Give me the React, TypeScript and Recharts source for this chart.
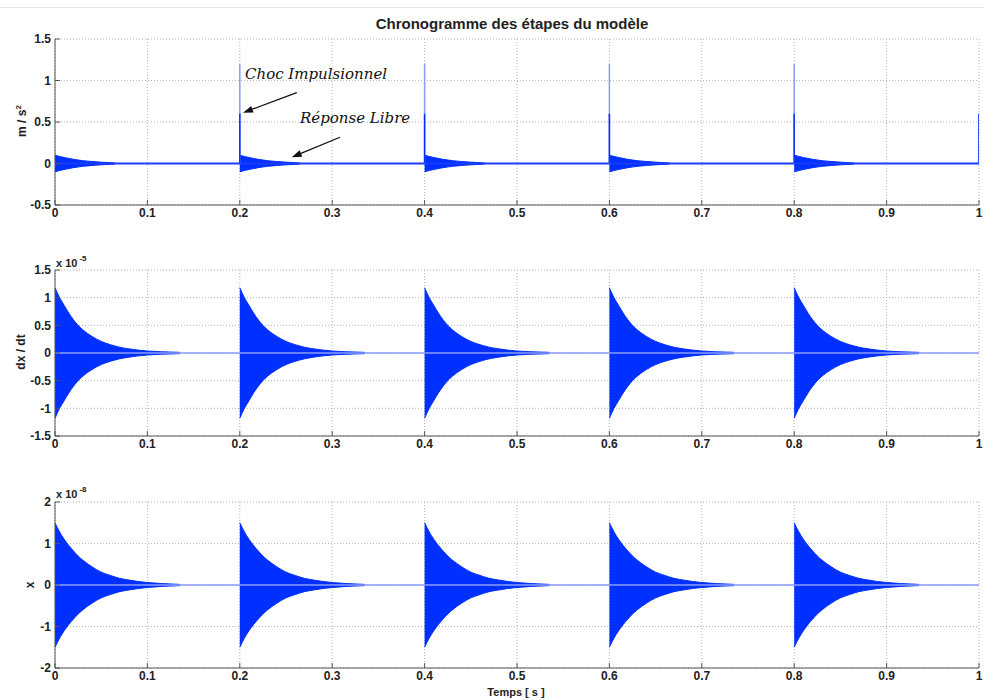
import {
	CartesianGrid,
	ComposedChart,
	Area,
	Line,
	ReferenceLine,
	XAxis,
	YAxis,
} from 'recharts'

// time axis (s)
const TIME_TICKS = [0, 0.1, 0.2, 0.3, 0.4, 0.5, 0.6, 0.7, 0.8, 0.9, 1]
const BURST_STARTS = [0, 0.2, 0.4, 0.6, 0.8]

// acceleration panel (m/s^2)
const ACCEL_TICKS = [-0.5, 0, 0.5, 1, 1.5]
const ACCEL_OFFSETS = [0, 0.005, 0.01, 0.02, 0.03, 0.04, 0.05, 0.06, 0.065]
const ACCEL_UPPER = [0.1, 0.085, 0.072, 0.05, 0.034, 0.024, 0.016, 0.01, 0.006]
const ACCEL_LOWER = [-0.1, -0.085, -0.072, -0.05, -0.034, -0.024, -0.016, -0.01, -0.006]
const SPIKE_TIMES = [0.2, 0.4, 0.6, 0.8, 1.0]
const SPIKE_PEAKS = [1.2, 1.2, 1.2, 1.2, 0.6]
const SPIKE_MIDS = [0.6, 0.6, 0.6, 0.6, 0.6]

// decay envelope of the free response (velocity x1e-5, displacement x1e-8)
const DECAY_OFFSETS = [0, 0.005, 0.01, 0.015, 0.02, 0.025, 0.03, 0.04, 0.05, 0.06, 0.07, 0.08, 0.09, 0.1, 0.115, 0.135]
const VELOCITY_TICKS = [-1.5, -1, -0.5, 0, 0.5, 1, 1.5]
const VELOCITY_ENVELOPE = [1.18, 1.0, 0.86, 0.72, 0.6, 0.5, 0.42, 0.3, 0.21, 0.15, 0.105, 0.075, 0.052, 0.036, 0.022, 0.012]
const DISPLACEMENT_TICKS = [-2, -1, 0, 1, 2]
const DISPLACEMENT_ENVELOPE = [1.5, 1.28, 1.1, 0.95, 0.82, 0.7, 0.6, 0.44, 0.31, 0.23, 0.16, 0.12, 0.085, 0.06, 0.035, 0.015]

const BLUE = '#0030ff'
const LIGHT_BLUE = '#8a9cff'
const FRAME = '#555'
const FONT = '"Liberation Sans", Arial, sans-serif'

type Row = {
	t: number
	band?: [number, number] | null
	spikeLow?: number
	spikeHigh?: number
}

const buildBursts = (offsets: number[], upper: number[], lower: number[]) => {
	const rows: Row[] = []
	BURST_STARTS.forEach((s) => {
		offsets.forEach((o, i) => rows.push({ t: s + o, band: [lower[i], upper[i]] }))
		rows.push({ t: s + offsets[offsets.length - 1] + 0.0001, band: null })
	})
	return rows
}

const buildAccelRows = () => {
	const bursts = buildBursts(ACCEL_OFFSETS, ACCEL_UPPER, ACCEL_LOWER)
	const rows: Row[] = []
	BURST_STARTS.forEach((s, k) => {
		const spikeIdx = SPIKE_TIMES.indexOf(s)
		if (spikeIdx >= 0) {
			rows.push({ t: s, spikeLow: 0, spikeHigh: 0 })
			rows.push({ t: s, spikeLow: SPIKE_MIDS[spikeIdx], spikeHigh: SPIKE_PEAKS[spikeIdx] })
		}
		const n = ACCEL_OFFSETS.length + 1
		rows.push(...bursts.slice(k * n, (k + 1) * n))
	})
	SPIKE_TIMES.filter((s) => !BURST_STARTS.includes(s)).forEach((s) => {
		const i = SPIKE_TIMES.indexOf(s)
		rows.push({ t: s, spikeLow: 0, spikeHigh: 0 })
		rows.push({ t: s, spikeLow: SPIKE_MIDS[i], spikeHigh: SPIKE_PEAKS[i] })
	})
	return rows
}

const accelRows = buildAccelRows()
const velocityRows = buildBursts(
	DECAY_OFFSETS,
	VELOCITY_ENVELOPE,
	VELOCITY_ENVELOPE.map((v) => -v),
)
const displacementRows = buildBursts(
	DECAY_OFFSETS,
	DISPLACEMENT_ENVELOPE,
	DISPLACEMENT_ENVELOPE.map((v) => -v),
)

const tickStyle = { fontSize: 12, fontWeight: 'bold' as const, fill: '#222', fontFamily: FONT }

const Arrow = (props: any) => {
	const { x1, y1, x2, y2 } = props
	const ang = Math.atan2(y2 - y1, x2 - x1)
	const len = 10
	const half = 3.5
	const bx = x2 - len * Math.cos(ang)
	const by = y2 - len * Math.sin(ang)
	const px = -Math.sin(ang) * half
	const py = Math.cos(ang) * half
	return (
		<g>
			<line x1={x1} y1={y1} x2={bx} y2={by} stroke="#111" strokeWidth={1.3} />
			<polygon
				points={`${x2},${y2} ${bx + px},${by + py} ${bx - px},${by - py}`}
				fill="#111"
			/>
		</g>
	)
}

interface PanelProps {
	data: Row[]
	height: number
	top: number
	bottom: number
	domain: [number, number]
	ticks: number[]
	baseColor: string
	baseWidth: number
	children?: React.ReactNode
}

const Panel = ({ data, height, top, bottom, domain, ticks, baseColor, baseWidth, children }: PanelProps) => (
	<ComposedChart
		width={984}
		height={height}
		data={data}
		margin={{ top, right: 5, left: 25, bottom }}
	>
		<CartesianGrid stroke="#b4b4b4" strokeDasharray="1 2" />
		<XAxis
			dataKey="t"
			type="number"
			domain={[0, 1]}
			ticks={TIME_TICKS}
			allowDataOverflow
			height={20}
			tickSize={-5}
			tickMargin={8}
			tick={tickStyle}
			tickFormatter={(v: number) => String(+v.toFixed(1))}
			axisLine={{ stroke: FRAME }}
			tickLine={{ stroke: FRAME }}
		/>
		<XAxis
			xAxisId="top"
			orientation="top"
			dataKey="t"
			type="number"
			domain={[0, 1]}
			ticks={TIME_TICKS}
			allowDataOverflow
			height={0}
			tickSize={-5}
			tick={false}
			axisLine={{ stroke: FRAME }}
			tickLine={{ stroke: FRAME }}
		/>
		<YAxis
			type="number"
			domain={domain}
			ticks={ticks}
			allowDataOverflow
			width={30}
			tickSize={-5}
			tickMargin={9}
			tick={tickStyle}
			axisLine={{ stroke: FRAME }}
			tickLine={{ stroke: FRAME }}
		/>
		<YAxis
			yAxisId="right"
			orientation="right"
			type="number"
			domain={domain}
			ticks={ticks}
			allowDataOverflow
			width={0}
			tickSize={-5}
			tick={false}
			axisLine={{ stroke: FRAME }}
			tickLine={{ stroke: FRAME }}
		/>
		<ReferenceLine y={0} stroke={baseColor} strokeWidth={baseWidth} />
		<Area
			dataKey="band"
			type="monotone"
			fill={BLUE}
			fillOpacity={1}
			stroke={BLUE}
			strokeWidth={1}
			isAnimationActive={false}
		/>
		{children}
	</ComposedChart>
)

export default function App() {
	return (
		<div
			style={{
				position: 'absolute',
				left: 0,
				top: 0,
				width: 984,
				height: 700,
				background: '#fff',
				overflow: 'hidden',
			}}
		>
			<div style={{ position: 'absolute', left: 0, top: 0 }}>
				<Panel
					data={accelRows}
					height={232}
					top={39}
					bottom={7}
					domain={[-0.5, 1.5]}
					ticks={ACCEL_TICKS}
					baseColor="#1a3cff"
					baseWidth={2}
				>
					<Line
						dataKey="spikeHigh"
						stroke={LIGHT_BLUE}
						strokeWidth={1.5}
						dot={false}
						isAnimationActive={false}
					/>
					<Line
						dataKey="spikeLow"
						stroke={BLUE}
						strokeWidth={1.5}
						dot={false}
						isAnimationActive={false}
					/>
					<ReferenceLine
						segment={[
							{ x: 0.2616, y: 0.855 },
							{ x: 0.2035, y: 0.612 },
						]}
						shape={Arrow}
					/>
					<ReferenceLine
						segment={[
							{ x: 0.3084, y: 0.316 },
							{ x: 0.2562, y: 0.075 },
						]}
						shape={Arrow}
					/>
				</Panel>
			</div>
			<div style={{ position: 'absolute', left: 0, top: 232 }}>
				<Panel
					data={velocityRows}
					height={232}
					top={38}
					bottom={8}
					domain={[-1.5, 1.5]}
					ticks={VELOCITY_TICKS}
					baseColor={LIGHT_BLUE}
					baseWidth={1.5}
				/>
			</div>
			<div style={{ position: 'absolute', left: 0, top: 464 }}>
				<Panel
					data={displacementRows}
					height={236}
					top={38}
					bottom={12}
					domain={[-2, 2]}
					ticks={DISPLACEMENT_TICKS}
					baseColor={LIGHT_BLUE}
					baseWidth={1.5}
				/>
			</div>
			<svg
				width={984}
				height={700}
				style={{ position: 'absolute', left: 0, top: 0, pointerEvents: 'none' }}
			>
				<line x1={0} y1={7.5} x2={984} y2={7.5} stroke="#e4e4e4" />
				<text
					x={512}
					y={29}
					textAnchor="middle"
					fontFamily={FONT}
					fontWeight="bold"
					fontSize={15}
					fill="#222"
				>
					Chronogramme des étapes du modèle
				</text>
				<text
					transform="translate(26,121) rotate(-90)"
					textAnchor="middle"
					fontFamily={FONT}
					fontWeight="bold"
					fontSize={12}
					fill="#222"
				>
					m / s<tspan dy={-5} fontSize={8}>2</tspan>
				</text>
				<text
					transform="translate(25,352) rotate(-90)"
					textAnchor="middle"
					fontFamily={FONT}
					fontWeight="bold"
					fontSize={12}
					fill="#222"
				>
					dx / dt
				</text>
				<text
					transform="translate(34,585) rotate(-90)"
					textAnchor="middle"
					fontFamily={FONT}
					fontWeight="bold"
					fontSize={12}
					fill="#222"
				>
					x
				</text>
				<text x={56} y={267} fontFamily={FONT} fontWeight="bold" fontSize={11} fill="#222">
					x 10<tspan dx={2} dy={-6} fontSize={8}>-5</tspan>
				</text>
				<text x={56} y={498} fontFamily={FONT} fontWeight="bold" fontSize={11} fill="#222">
					x 10<tspan dx={2} dy={-6} fontSize={8}>-8</tspan>
				</text>
				<text
					x={516}
					y={696}
					textAnchor="middle"
					fontFamily={FONT}
					fontWeight="bold"
					fontSize={11}
					fill="#222"
				>
					Temps [ s ]
				</text>
				<text
					x={245}
					y={79}
					fontFamily='"DejaVu Serif", serif'
					fontStyle="italic"
					fontSize={15}
					fill="#111"
				>
					Choc Impulsionnel
				</text>
				<text
					x={300}
					y={123}
					fontFamily='"DejaVu Serif", serif'
					fontStyle="italic"
					fontSize={15}
					fill="#111"
				>
					Réponse Libre
				</text>
			</svg>
		</div>
	)
}
